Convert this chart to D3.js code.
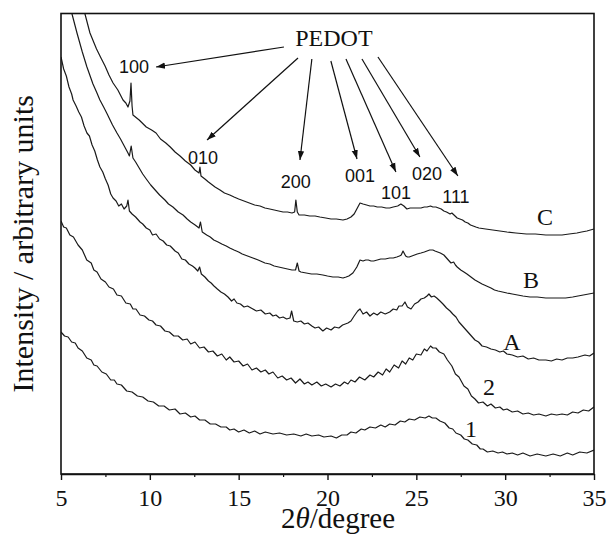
<!DOCTYPE html>
<html><head><meta charset="utf-8">
<script src="https://cdn.jsdelivr.net/npm/d3@7"></script>
<style>body{margin:0;background:#fff}</style>
</head><body>
<script>
// ---------- DATA ----------
const xTicks = [5, 10, 15, 20, 25, 30, 35];
const xMinorTicks = [7.5, 12.5, 17.5, 22.5, 27.5, 32.5];
const curveNames = ["C", "B", "A", "2", "1"];

const curveC = [[5.8,540],[6.0,500],[6.35,460],[6.63,441],[7.0,425],[7.25,416],[7.48,408],[7.7,399],[7.93,391],[8.2,384],[8.49,374],[8.65,371],[8.77,367],[8.88,373],[8.94,391],[9.0,368],[9.05,359],[9.4,354],[9.8,347],[10.1,344],[10.35,341],[10.6,335],[10.9,331],[11.15,327],[11.42,322],[11.7,318],[12.0,313],[12.3,309],[12.54,304],[12.77,301],[12.82,307],[12.88,298],[13.1,295],[13.3,292],[13.67,287],[13.95,284],[14.2,281],[14.5,279],[14.74,277],[15.0,275],[15.3,273],[15.6,271],[15.9,269],[16.2,268],[16.48,266],[16.75,265],[17.0,264],[17.25,263],[17.5,262],[17.75,262],[18.0,261],[18.15,262],[18.22,274],[18.3,262],[18.4,259],[18.7,259],[19.0,258],[19.3,258],[19.57,257],[19.9,256],[20.2,255],[20.5,255],[20.87,254],[21.1,255],[21.32,257],[21.5,260],[21.65,265],[21.83,271],[22.0,270],[22.2,269],[22.39,268],[22.6,268],[22.8,267],[23.05,267],[23.29,266],[23.5,266],[23.7,267],[23.95,268],[24.13,270],[24.3,268],[24.47,265],[24.65,266],[24.8,266],[25.05,266],[25.26,266],[25.45,267],[25.6,267],[25.8,268],[25.93,267],[26.1,267],[26.25,266],[26.4,265],[26.55,263],[26.7,262],[26.9,260],[27.0,261],[27.12,259],[27.3,256],[27.45,255],[27.6,254],[27.75,252],[27.9,251],[28.05,249],[28.2,248],[28.35,247],[28.52,246],[28.9,245],[29.3,244],[29.7,243],[30.1,242],[30.6,241],[31.2,240],[31.7,240],[32.29,239],[32.7,239],[33.2,239],[33.6,240],[34.04,241],[34.3,242],[34.6,243],[35.0,245]];

const curveB = [[5.4,510],[5.62,460],[5.9,441],[6.2,422],[6.46,407],[6.8,390],[7.0,382],[7.19,374],[7.4,367],[7.6,360],[7.9,349],[8.15,341],[8.35,335],[8.5,330],[8.65,325],[8.77,321],[8.85,318],[8.95,328],[9.05,316],[9.2,312],[9.4,306],[9.6,300],[9.8,295],[10.05,289],[10.3,284],[10.55,279],[10.85,274],[11.05,270],[11.3,267],[11.6,262],[11.87,259],[12.1,255],[12.3,252],[12.55,249],[12.77,246],[12.85,252],[12.95,242],[13.2,239],[13.4,237],[13.6,234],[13.84,232],[14.05,230],[14.3,228],[14.5,226],[14.74,224],[15.0,222],[15.2,220],[15.5,218],[15.8,216],[16.1,214],[16.48,211],[16.75,210],[17.0,208],[17.25,207],[17.5,206],[17.75,205],[18.0,204],[18.2,204],[18.3,211],[18.4,203],[18.5,202],[18.8,201],[19.1,200],[19.4,200],[19.74,199],[20.0,198],[20.3,197],[20.6,197],[20.87,196],[21.05,197],[21.2,198],[21.43,201],[21.65,207],[21.83,214],[22.0,213],[22.15,214],[22.3,214],[22.45,213],[22.6,213],[22.8,214],[23.0,215],[23.25,215],[23.5,216],[23.7,216],[23.9,217],[24.05,218],[24.15,219],[24.25,223],[24.4,218],[24.5,217],[24.6,217],[24.75,218],[24.9,219],[25.05,220],[25.26,221],[25.45,222],[25.6,223],[25.75,224],[25.93,224],[26.05,223],[26.2,222],[26.35,221],[26.55,219],[26.7,216],[26.8,214],[26.95,211],[27.1,212],[27.2,209],[27.3,207],[27.5,204],[27.68,202],[27.85,200],[28.0,198],[28.15,196],[28.3,194],[28.5,192],[28.7,190],[28.95,188],[29.2,186],[29.4,184],[29.6,183],[29.85,182],[30.1,181],[30.4,180],[30.7,179],[31.0,178],[31.4,177],[31.8,177],[32.29,176],[32.6,176],[33.0,176],[33.4,176],[33.8,177],[34.1,178],[34.4,179],[34.7,180],[35.0,181]];

const curveA = [[5.0,417],[5.15,405],[5.3,398],[5.45,387],[5.6,380],[5.68,374],[5.85,368],[6.0,362],[6.15,357],[6.3,348],[6.46,341],[6.6,338],[6.75,329],[6.9,323],[7.05,314],[7.19,307],[7.35,302],[7.5,295],[7.65,289],[7.8,280],[7.93,276],[8.1,273],[8.25,268],[8.4,270],[8.55,265],[8.7,268],[8.77,274],[8.85,263],[9.0,260],[9.2,257],[9.45,252],[9.6,250],[9.8,246],[10.0,244],[10.15,239],[10.35,240],[10.55,235],[10.75,233],[10.95,229],[11.15,228],[11.42,223],[11.6,221],[11.8,215],[12.0,214],[12.2,210],[12.4,208],[12.54,206],[12.7,203],[12.8,207],[12.9,200],[13.1,197],[13.3,193],[13.45,191],[13.61,188],[13.8,185],[14.0,182],[14.2,180],[14.4,177],[14.6,173],[14.74,175],[14.9,171],[15.1,170],[15.3,167],[15.5,168],[15.8,165],[16.0,163],[16.25,164],[16.5,160],[16.75,161],[16.93,158],[17.1,159],[17.3,156],[17.5,157],[17.7,155],[17.89,156],[17.98,163],[18.1,153],[18.3,152],[18.5,153],[18.7,150],[18.9,151],[19.12,148],[19.3,146],[19.5,147],[19.74,143],[19.95,146],[20.2,144],[20.4,147],[20.64,146],[20.85,149],[21.0,150],[21.15,151],[21.32,153],[21.5,158],[21.7,163],[21.83,165],[22.0,160],[22.2,162],[22.39,158],[22.6,161],[22.8,159],[23.0,162],[23.25,160],[23.5,162],[23.7,165],[23.9,164],[24.02,168],[24.2,168],[24.36,172],[24.5,167],[24.7,165],[24.9,170],[25.1,172],[25.26,175],[25.45,176],[25.6,178],[25.71,180],[25.85,177],[26.0,178],[26.15,176],[26.33,173],[26.5,170],[26.7,166],[26.9,163],[27.05,160],[27.23,157],[27.4,152],[27.6,148],[27.75,145],[27.9,142],[28.1,138],[28.3,134],[28.5,132],[28.7,128],[28.95,127],[29.2,125],[29.45,124],[29.7,122],[29.9,123],[30.1,120],[30.4,119],[30.7,117],[31.0,118],[31.3,115],[31.6,116],[31.9,114],[32.29,114],[32.6,113],[32.9,115],[33.2,114],[33.5,116],[33.8,116],[34.1,117],[34.49,119],[34.75,118],[35.0,121]];

const curve2 = [[5.0,253],[5.15,247],[5.3,246],[5.5,239],[5.7,237],[5.96,229],[6.2,224],[6.45,214],[6.7,211],[6.85,204],[7.03,202],[7.25,195],[7.5,192],[7.7,187],[7.95,185],[8.15,179],[8.4,178],[8.65,171],[8.9,170],[9.05,165],[9.22,165],[9.45,159],[9.7,158],[9.95,154],[10.15,153],[10.35,149],[10.6,148],[10.85,143],[11.1,142],[11.35,138],[11.6,138],[11.85,134],[12.1,135],[12.3,130],[12.54,132],[12.8,126],[13.05,127],[13.3,122],[13.55,123],[13.8,118],[14.05,120],[14.3,114],[14.5,117],[14.74,112],[15.0,113],[15.25,108],[15.5,110],[15.75,104],[16.0,106],[16.25,102],[16.5,104],[16.7,100],[16.93,102],[17.2,96],[17.45,98],[17.7,94],[17.95,96],[18.2,91],[18.45,95],[18.7,90],[18.9,92],[19.12,89],[19.4,92],[19.65,88],[19.9,90],[20.2,87],[20.45,90],[20.7,88],[20.95,92],[21.15,90],[21.32,94],[21.55,92],[21.8,97],[22.1,94],[22.39,99],[22.6,97],[22.85,102],[23.1,99],[23.3,105],[23.5,102],[23.75,109],[24.0,106],[24.2,113],[24.4,110],[24.6,116],[24.8,114],[25.0,120],[25.26,119],[25.45,125],[25.6,123],[25.8,128],[25.93,126],[26.1,126],[26.3,122],[26.55,120],[26.75,114],[27.0,108],[27.2,100],[27.4,97],[27.68,88],[27.9,85],[28.1,78],[28.3,75],[28.5,71],[28.75,72],[29.0,68],[29.2,70],[29.45,66],[29.7,67],[29.9,64],[30.1,65],[30.4,62],[30.7,63],[31.0,60],[31.3,61],[31.6,59],[31.9,60],[32.29,58],[32.6,60],[32.9,59],[33.2,60],[33.5,59],[33.8,62],[34.1,61],[34.4,64],[34.7,63],[35.0,67]];

const curve1 = [[5.0,142],[5.2,138],[5.4,137],[5.6,132],[5.8,131],[5.96,126],[6.2,123],[6.45,116],[6.7,114],[6.85,109],[7.03,108],[7.3,102],[7.55,100],[7.8,94],[8.0,94],[8.15,90],[8.4,89],[8.7,83],[9.0,82],[9.3,78],[9.6,77],[9.9,73],[10.2,72],[10.5,68],[10.8,68],[11.1,64],[11.42,65],[11.7,60],[12.0,61],[12.3,57],[12.54,58],[12.8,54],[13.1,54],[13.4,50],[13.7,50],[14.0,47],[14.3,47],[14.5,44],[14.74,45],[15.0,42],[15.3,44],[15.6,41],[15.9,43],[16.2,40],[16.5,42],[16.93,40],[17.3,41],[17.7,39],[18.1,40],[18.5,38],[18.8,40],[19.12,38],[19.5,39],[19.8,37],[20.2,38],[20.5,36],[20.8,39],[21.1,39],[21.32,42],[21.6,41],[21.9,45],[22.1,44],[22.39,47],[22.7,46],[23.0,49],[23.25,47],[23.5,50],[23.8,49],[24.1,53],[24.35,52],[24.6,55],[24.9,54],[25.2,57],[25.5,56],[25.71,58],[25.9,56],[26.1,56],[26.33,53],[26.6,51],[26.85,46],[27.05,45],[27.23,41],[27.5,39],[27.7,35],[27.9,34],[28.15,30],[28.4,29],[28.6,25],[28.75,25],[29.0,22],[29.3,23],[29.6,21],[29.85,22],[30.1,20],[30.4,21],[30.7,19],[31.0,21],[31.4,18],[31.8,20],[32.29,18],[32.7,20],[33.1,18],[33.5,21],[33.8,19],[34.2,22],[34.6,21],[35.0,24]];

// curve label anchor points [2theta, intensity]
const curveLabelPos = [[32.24,249],[31.45,186],[30.38,124],[29.09,79],[28.07,37]];

// PEDOT annotation (data units)
const pedotTitle = "PEDOT";
const pedotTitlePos = [20.36, 428];
const reflectionNames = ["100", "010", "200", "001", "101", "020", "111"];
const arrowStart = [[17.55,427],[18.34,416],[19.12,415],[20.19,413],[21.04,415],[21.94,415],[22.84,417]];
const arrowEnd   = [[10.35,407],[13.22,334],[18.45,314],[21.66,315],[23.85,302],[25.2,317],[27.34,298]];
const reflectionLabelPos = [[9.11,401],[12.99,310],[18.22,286],[21.83,292],[23.85,275],[25.6,294],[27.23,271]];

// ---------- CHART ----------
const W = 608, H = 547;
const m = {left: 61, right: 14, top: 13.5, bottom: 73};
const serif = "'Liberation Serif', 'Times New Roman', serif";
const svg = d3.select("body").append("svg").attr("width", W).attr("height", H);

const x = d3.scaleLinear().domain([5, 35]).range([m.left, W - m.right]);
const y = d3.scaleLinear().domain([0, 460.5]).range([H - m.bottom, m.top]);

const defs = svg.append("defs");
defs.append("clipPath").attr("id", "clip")
  .append("rect").attr("x", m.left).attr("y", m.top)
  .attr("width", W - m.left - m.right).attr("height", H - m.top - m.bottom);
defs.append("marker").attr("id", "arr")
  .attr("viewBox", "0 0 10 10").attr("refX", 10).attr("refY", 5)
  .attr("markerWidth", 9).attr("markerHeight", 9).attr("markerUnits", "userSpaceOnUse")
  .attr("orient", "auto")
  .append("path").attr("d", "M0,1.5 L10,5 L0,8.5 Z").attr("fill", "#111");

const line = d3.line().x(d => x(d[0])).y(d => y(d[1]));
const curves = [curveC, curveB, curveA, curve2, curve1];
svg.append("g").attr("clip-path", "url(#clip)")
  .selectAll("path").data(curves).join("path")
  .attr("d", line).attr("fill", "none").attr("stroke", "#1a1a1a")
  .attr("stroke-width", 1.2).attr("stroke-linejoin", "round");

// frame
svg.append("rect").attr("x", m.left).attr("y", m.top)
  .attr("width", W - m.left - m.right).attr("height", H - m.top - m.bottom)
  .attr("fill", "none").attr("stroke", "#111").attr("stroke-width", 1.6);

// x axis
const xAxis = d3.axisBottom(x).tickValues(xTicks).tickSize(6).tickSizeOuter(0).tickFormat(d3.format("d"));
const gx = svg.append("g").attr("transform", `translate(0,${H - m.bottom})`).call(xAxis);
gx.select(".domain").attr("stroke", "#111").attr("stroke-width", 1.6);
gx.selectAll(".tick line").attr("stroke", "#111").attr("stroke-width", 1.4);
gx.selectAll(".tick text").attr("font-family", serif)
  .attr("font-size", 24).attr("fill", "#111").attr("y", 32).attr("dy", null);
const gxm = svg.append("g").attr("transform", `translate(0,${H - m.bottom})`)
  .call(d3.axisBottom(x).tickValues(xMinorTicks).tickSize(3).tickSizeOuter(0).tickFormat(""));
gxm.select(".domain").remove();
gxm.selectAll(".tick line").attr("stroke", "#111").attr("stroke-width", 1.2);

// axis titles
const xt = svg.append("text").attr("x", 338).attr("y", 528)
  .attr("text-anchor", "middle").attr("font-family", serif)
  .attr("font-size", 29).attr("fill", "#111");
xt.append("tspan").text("2");
xt.append("tspan").attr("font-style", "italic").text("θ");
xt.append("tspan").text("/degree");

svg.append("text").attr("transform", `translate(33,${(m.top + H - m.bottom) / 2}) rotate(-90)`)
  .attr("text-anchor", "middle").attr("font-family", serif)
  .attr("font-size", 30).attr("fill", "#111").text("Intensity / arbitrary units");

// curve labels
svg.append("g").selectAll("text").data(curveNames).join("text")
  .attr("x", (d, i) => x(curveLabelPos[i][0])).attr("y", (d, i) => y(curveLabelPos[i][1]))
  .attr("text-anchor", "middle").attr("font-family", serif)
  .attr("font-size", 24).attr("fill", "#111").text(d => d);

// PEDOT annotation
svg.append("text").attr("x", x(pedotTitlePos[0])).attr("y", y(pedotTitlePos[1]))
  .attr("text-anchor", "middle").attr("font-family", serif)
  .attr("font-size", 24).attr("fill", "#111").text(pedotTitle);

svg.append("g").selectAll("line").data(reflectionNames).join("line")
  .attr("x1", (d, i) => x(arrowStart[i][0])).attr("y1", (d, i) => y(arrowStart[i][1]))
  .attr("x2", (d, i) => x(arrowEnd[i][0])).attr("y2", (d, i) => y(arrowEnd[i][1]))
  .attr("stroke", "#111").attr("stroke-width", 1.2).attr("marker-end", "url(#arr)");

svg.append("g").selectAll("text").data(reflectionNames).join("text")
  .attr("x", (d, i) => x(reflectionLabelPos[i][0])).attr("y", (d, i) => y(reflectionLabelPos[i][1]))
  .attr("text-anchor", "middle").attr("font-family", "'Liberation Sans', Arial, sans-serif")
  .attr("font-size", 18).attr("fill", "#111").text(d => d);
</script>
</body></html>
